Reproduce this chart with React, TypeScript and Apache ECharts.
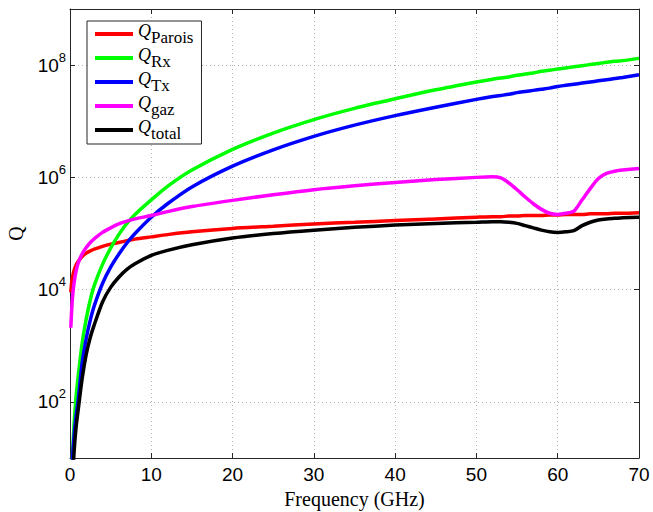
import React, { useEffect, useRef } from 'react';
import * as echarts from 'echarts';

// Frequency samples (GHz)
const FREQ_GHZ = [0.1, 0.2, 0.3, 0.5, 0.75, 1, 1.5, 2, 2.5, 3, 4, 5, 6, 7, 8, 10, 12, 15, 20, 25, 30, 35, 40, 45, 50, 52, 53, 54, 55, 56, 57, 58, 59, 60, 61, 62, 63, 64, 65, 66, 67, 68, 70];

// log10(Q)
const LOG_Q_PAROIS = [3.95, 4.12, 4.22, 4.34, 4.44, 4.5, 4.59, 4.65, 4.69, 4.72, 4.77, 4.81, 4.84, 4.87, 4.9, 4.94, 4.98, 5.03, 5.09, 5.13, 5.17, 5.2, 5.23, 5.26, 5.29, 5.3, 5.3, 5.31, 5.31, 5.32, 5.32, 5.32, 5.33, 5.33, 5.34, 5.34, 5.34, 5.35, 5.35, 5.35, 5.36, 5.36, 5.37];
const LOG_Q_RX = [0.0, 0.55, 1.0, 1.6, 2.1, 2.45, 3.05, 3.48, 3.82, 4.08, 4.45, 4.74, 4.98, 5.18, 5.34, 5.6, 5.84, 6.13, 6.5, 6.79, 7.03, 7.23, 7.4, 7.56, 7.7, 7.75, 7.77, 7.79, 7.82, 7.84, 7.86, 7.89, 7.91, 7.93, 7.95, 7.97, 7.99, 8.01, 8.03, 8.05, 8.07, 8.08, 8.12];
const LOG_Q_TX = [-0.5, 0.3, 0.95, 1.4, 1.75, 2.02, 2.7, 3.13, 3.46, 3.72, 4.11, 4.4, 4.63, 4.83, 5.0, 5.29, 5.53, 5.83, 6.2, 6.49, 6.73, 6.93, 7.1, 7.25, 7.39, 7.44, 7.46, 7.48, 7.51, 7.53, 7.55, 7.57, 7.59, 7.62, 7.64, 7.66, 7.68, 7.7, 7.72, 7.74, 7.76, 7.78, 7.83];
const LOG_Q_GAZ = [3.32, 3.62, 3.85, 4.12, 4.33, 4.47, 4.64, 4.75, 4.84, 4.91, 5.02, 5.1, 5.17, 5.22, 5.26, 5.32, 5.39, 5.48, 5.59, 5.69, 5.78, 5.85, 5.91, 5.96, 6.0, 6.01, 5.99, 5.9, 5.78, 5.65, 5.53, 5.43, 5.36, 5.34, 5.36, 5.4, 5.6, 5.8, 5.98, 6.07, 6.11, 6.13, 6.16];
const LOG_Q_TOTAL = [-1.0, -0.2, 0.5, 1.1, 1.55, 1.85, 2.42, 2.85, 3.15, 3.38, 3.78, 4.04, 4.22, 4.36, 4.46, 4.61, 4.7, 4.8, 4.92, 5.0, 5.06, 5.11, 5.15, 5.18, 5.2, 5.21, 5.21, 5.2, 5.18, 5.14, 5.1, 5.06, 5.03, 5.02, 5.03, 5.05, 5.14, 5.2, 5.24, 5.26, 5.27, 5.28, 5.29];

const SERIES_SUBSCRIPTS = ['Parois', 'Rx', 'Tx', 'gaz', 'total'];
const SERIES_VALUES = [LOG_Q_PAROIS, LOG_Q_RX, LOG_Q_TX, LOG_Q_GAZ, LOG_Q_TOTAL];
const SERIES_COLORS = ['#ff0000', '#00ff00', '#0000ff', '#ff00ff', '#000000'];

// Axes
const X_MIN = 0;
const X_MAX = 70;
const X_STEP = 10;
const Y_MIN_EXP = 1;
const Y_MAX_EXP = 9;
const Y_LABEL_EXPONENTS = [2, 4, 6, 8];

const AXIS_COLOR = '#262626';
const GRID_COLOR = '#b4b4b4';
const SANS = 'Liberation Sans, Arial, sans-serif';
const SERIF = 'Liberation Serif, Times New Roman, serif';

export default function App() {
  const ref = useRef<HTMLDivElement>(null);

  useEffect(() => {
    document.body.style.margin = '0';
    const chart = echarts.init(ref.current as HTMLDivElement, null, { renderer: 'svg' });

    const axisLine = { show: true, onZero: false, lineStyle: { color: AXIS_COLOR, width: 1 } };
    const axisTick = { show: true, inside: true, length: 5, lineStyle: { color: AXIS_COLOR, width: 1 } };
    const splitLine = { show: true, lineStyle: { color: GRID_COLOR, type: [1, 3], width: 1 } };

    const option: any = {
      animation: false,
      backgroundColor: '#ffffff',
      grid: { left: 70, right: 14, top: 9, bottom: 54, containLabel: false, outerBoundsMode: 'none' },
      legend: {
        orient: 'vertical',
        left: 87,
        top: 21,
        padding: [1, 8, 2, 8],
        itemGap: 0,
        itemWidth: 38,
        itemHeight: 4,
        icon: 'rect',
        backgroundColor: '#ffffff',
        borderColor: AXIS_COLOR,
        borderWidth: 1,
        borderRadius: 0,
        selectedMode: false,
        data: SERIES_SUBSCRIPTS,
        formatter: (name: string) => `{q|Q}{s|${name}}`,
        textStyle: {
          color: '#000',
          lineHeight: 24,
          rich: {
            q: { fontFamily: SERIF, fontStyle: 'italic', fontSize: 18, lineHeight: 24, verticalAlign: 'top', color: '#000' },
            s: { fontFamily: SERIF, fontSize: 17, lineHeight: 24, verticalAlign: 'bottom', color: '#000' },
          },
        },
      },
      xAxis: [
        {
          type: 'value',
          min: X_MIN,
          max: X_MAX,
          interval: X_STEP,
          position: 'bottom',
          axisLine,
          axisTick,
          splitLine,
          axisLabel: { color: '#000', fontSize: 19, fontFamily: SANS, margin: 7, showMinLabel: true, showMaxLabel: true },
          name: 'Frequency (GHz)',
          nameLocation: 'middle',
          nameGap: 28,
          nameTextStyle: { fontFamily: SERIF, fontSize: 20, color: '#000' },
        },
        {
          type: 'value',
          min: X_MIN,
          max: X_MAX,
          interval: X_STEP,
          position: 'top',
          axisLine,
          axisTick,
          splitLine: { show: false },
          axisLabel: { show: false },
        },
      ],
      yAxis: [
        {
          type: 'value',
          min: Y_MIN_EXP,
          max: Y_MAX_EXP,
          splitNumber: 4,
          position: 'left',
          axisLine,
          axisTick,
          splitLine,
          axisLabel: {
            margin: 4,
            formatter: (v: number) => (Y_LABEL_EXPONENTS.includes(v) ? `{b|10}{e|${v}}` : ''),
            rich: {
              b: { fontFamily: SANS, fontSize: 19, lineHeight: 22, color: '#000' },
              e: { fontFamily: SANS, fontSize: 13, lineHeight: 22, color: '#000', padding: [0, 0, 16, 0] },
            },
          },
          name: 'Q',
          nameLocation: 'middle',
          nameGap: 44,
          nameTextStyle: { fontFamily: SERIF, fontSize: 20, color: '#000' },
        },
        {
          type: 'value',
          min: Y_MIN_EXP,
          max: Y_MAX_EXP,
          splitNumber: 4,
          position: 'right',
          axisLine,
          axisTick,
          splitLine: { show: false },
          axisLabel: { show: false },
        },
      ],
      series: SERIES_SUBSCRIPTS.map((sub, k) => ({
        name: sub,
        type: 'line',
        xAxisIndex: 0,
        yAxisIndex: 0,
        data: FREQ_GHZ.map((f, i) => [f, SERIES_VALUES[k][i]]),
        showSymbol: false,
        symbol: 'none',
        smooth: 0.25,
        clip: true,
        silent: true,
        itemStyle: { color: SERIES_COLORS[k] },
        lineStyle: { color: SERIES_COLORS[k], width: 3.5 },
      })),
    };

    chart.setOption(option);
    return () => chart.dispose();
  }, []);

  return <div ref={ref} style={{ width: 653, height: 512 }} />;
}
